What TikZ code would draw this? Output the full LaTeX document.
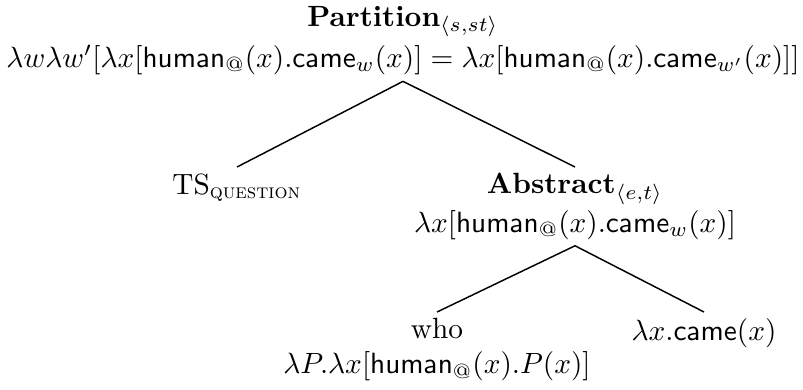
\documentclass[tikz,border=0pt]{standalone}
\usepackage{amsmath,amssymb}
\usetikzlibrary{positioning}
\newcommand{\hum}{\mathsf{human}_{@}}
\newcommand{\cam}{\mathsf{came}}
\tikzstyle{treenode} = [align=center, inner sep=2pt, anchor=north]
\tikzstyle{branch} = [line width=0.5pt, draw=black]

\begin{document}
\begin{tikzpicture}[x=0.3413pt, y=-0.3413pt]
\useasboundingbox (0,0) rectangle (803,389);

\node (root) [treenode] at (403,0) {\textbf{Partition}$_{\langle s,st\rangle}$\\[2pt]
  $\lambda w\lambda w'[\lambda x[\hum(x).\cam_w(x)]=\lambda x[\hum(x).\cam_{w'}(x)]]$};
\node (ts) [treenode] at (237,167) {TS$_{\textsc{question}}$};
\node (abs) [treenode] at (575,167) {\textbf{Abstract}$_{\langle e,t\rangle}$\\[1pt]
  $\lambda x[\hum(x).\cam_w(x)]$};
\node (who) [treenode] at (437,312) {who\\ $\lambda P.\lambda x[\hum(x).P(x)]$};
\node (came) [treenode] at (704,312) {$\lambda x.\cam(x)$};

\draw [branch] (root.south) -- (ts.north);
\draw [branch] (root.south) -- (abs.north);
\draw [branch] (abs.south) -- (who.north);
\draw [branch] (abs.south) -- (came.north);

\end{tikzpicture}
\end{document}
